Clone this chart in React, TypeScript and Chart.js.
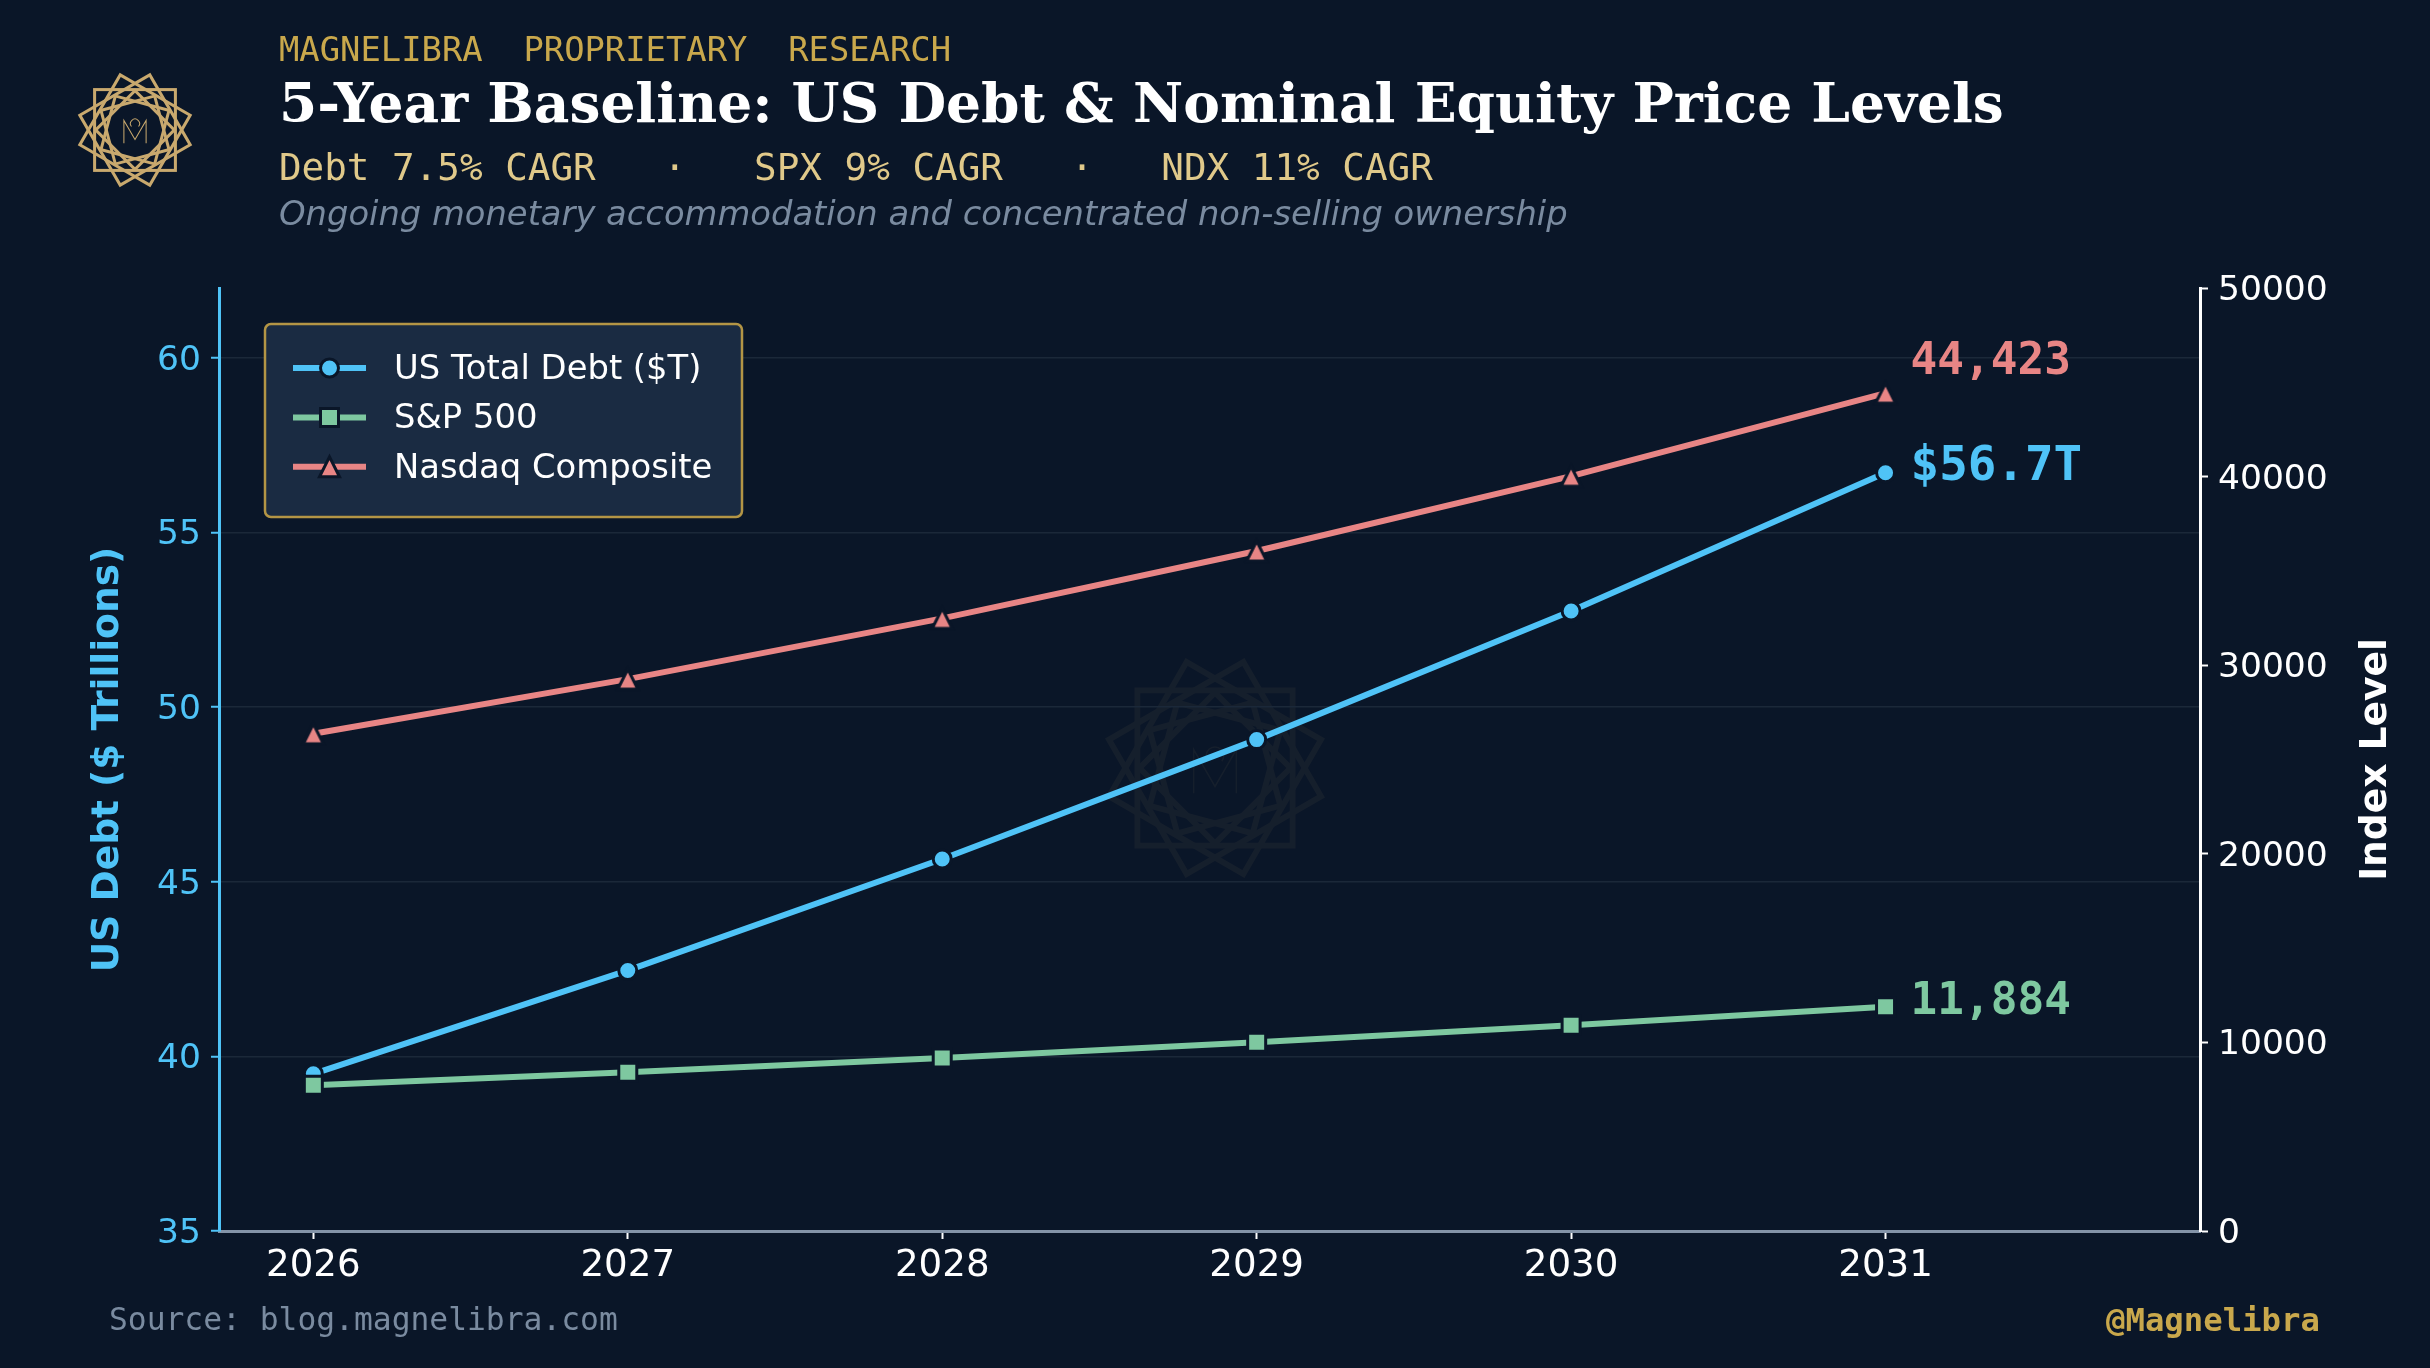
import React, { useEffect, useRef } from 'react';
import { Chart, registerables } from 'chart.js';
Chart.register(...registerables);

const years = [2026, 2027, 2028, 2029, 2030, 2031];
const debtValues = [39.5, 42.46, 45.65, 49.07, 52.75, 56.71];
const spxValues = [7724, 8419, 9177, 10003, 10903, 11884];
const ndxValues = [26363, 29263, 32482, 36055, 40021, 44423];
const debtTicks = [35, 40, 45, 50, 55, 60];
const indexTicks = [0, 10000, 20000, 30000, 40000, 50000];
const seriesNames = ['US Total Debt ($T)', 'S&P 500', 'Nasdaq Composite'];
const endLabels = ['$56.7T', '11,884', '44,423'];

const BG = '#0a1628';
const BLUE = '#4fc3f7';
const GREEN = '#7ec8a0';
const RED = '#e88585';
const GOLD = '#c9a84c';
const LOGO = '#c9a96e';
const MUTED = '#7a8ba0';
const WHITE = '#ffffff';
const SANS = '"DejaVu Sans"';
const MONO = '"DejaVu Sans Mono"';

type MarkerKind = 'circle' | 'square' | 'triangle';

// matplotlib style marker: filled shape with a background coloured edge
const drawMarker = (ctx: CanvasRenderingContext2D, kind: MarkerKind, color: string, x: number, y: number) => {
    ctx.save();
    ctx.fillStyle = color;
    ctx.strokeStyle = BG;
    ctx.lineWidth = 3;
    ctx.lineJoin = 'miter';
    ctx.miterLimit = 10;
    ctx.beginPath();
    if (kind === 'circle') ctx.arc(x, y, 9, 0, Math.PI * 2);
    if (kind === 'square') ctx.rect(x - 9, y - 9, 18, 18);
    if (kind === 'triangle') {
        ctx.moveTo(x, y - 10);
        ctx.lineTo(x - 10, y + 10);
        ctx.lineTo(x + 10, y + 10);
        ctx.closePath();
    }
    ctx.fill();
    ctx.stroke();
    ctx.restore();
};

const triangleImage = () => {
    const c = document.createElement('canvas');
    c.width = 40;
    c.height = 40;
    drawMarker(c.getContext('2d')!, 'triangle', RED, 20, 20);
    return c;
};

const legendPlugin = {
    id: 'boxLegend',
    afterDraw(chart: any) {
        const ctx = chart.ctx;
        ctx.save();
        ctx.fillStyle = '#1a2b42';
        ctx.strokeStyle = '#b39545';
        ctx.lineWidth = 2.5;
        ctx.beginPath();
        ctx.roundRect(265, 324, 477, 193, 6);
        ctx.fill();
        ctx.stroke();
        const kinds: MarkerKind[] = ['circle', 'square', 'triangle'];
        const colors = [BLUE, GREEN, RED];
        seriesNames.forEach((name, i) => {
            const y = 368 + i * 49.4;
            ctx.strokeStyle = colors[i];
            ctx.lineWidth = 6;
            ctx.beginPath();
            ctx.moveTo(293, y);
            ctx.lineTo(366, y);
            ctx.stroke();
            drawMarker(ctx, kinds[i], colors[i], 329.5, y);
            ctx.fillStyle = WHITE;
            ctx.font = `33.8px ${SANS}`;
            ctx.textBaseline = 'alphabetic';
            ctx.fillText(name, 394, y + 11);
        });
        ctx.restore();
    },
};

const annotationPlugin = {
    id: 'endAnnotations',
    afterDatasetsDraw(chart: any) {
        const ctx = chart.ctx;
        const x = chart.scales.x.getPixelForValue(years[years.length - 1]);
        const rows = [
            { y: chart.scales.yDebt.getPixelForValue(debtValues[debtValues.length - 1]), dy: 7.5, color: BLUE, dx: 25, size: 47.5 },
            { y: chart.scales.yIndex.getPixelForValue(spxValues[spxValues.length - 1]), dy: 7.5, color: GREEN, dx: 25, size: 44.4 },
            { y: chart.scales.yIndex.getPixelForValue(ndxValues[ndxValues.length - 1]), dy: -19, color: RED, dx: 25, size: 44.4 },
        ];
        ctx.save();
        ctx.textBaseline = 'alphabetic';
        rows.forEach((r, i) => {
            ctx.font = `bold ${r.size}px ${MONO}`;
            ctx.fillStyle = r.color;
            ctx.fillText(endLabels[i], x + r.dx, r.y + r.dy);
        });
        // the right axis title reads upward, chart.js would turn it the other way
        ctx.translate(2376, (chart.chartArea.top + chart.chartArea.bottom) / 2);
        ctx.rotate(-Math.PI / 2);
        ctx.font = `bold 37.6px ${SANS}`;
        ctx.fillStyle = WHITE;
        ctx.textAlign = 'center';
        ctx.textBaseline = 'middle';
        ctx.fillText('Index Level', 0, 0);
        ctx.restore();
    },
};

const LogoMark: React.FC<{ cx: number; cy: number; scale: number; color: string; opacity: number; thin: number }> = ({ cx, cy, scale, color, opacity, thin }) => (
    <svg width={260} height={260} viewBox="-130 -130 260 260" style={{ position: 'absolute', left: cx - 130, top: cy - 130, opacity }}>
        <g transform={`scale(${scale})`} fill="none" stroke={color}>
            {[0, 30, 60].map(a => <rect key={a} x={-80} y={-80} width={160} height={160} strokeWidth={6} transform={`rotate(${a})`} />)}
            {[15, 45, 75].map(a => <rect key={a} x={-55} y={-55} width={110} height={110} strokeWidth={6} transform={`rotate(${a})`} />)}
            <path d="M-22 26 V-19 L0 19 L22 -19 V26 M-7 -7 A9 9 0 1 1 7 -7" strokeWidth={thin} />
        </g>
    </svg>
);

const textAt = (left: number, baseline: number, size: number): React.CSSProperties => ({
    position: 'absolute',
    left,
    top: baseline - 0.846 * size,
    fontSize: size,
    lineHeight: 1,
    whiteSpace: 'pre',
});

// chart.js centres tick text a little above the tick, an empty first line with a small
// line height pushes the labels back down onto it
const nudgedTick = (v: any) => ['', String(v)];

const App: React.FC = () => {
    const canvasRef = useRef<HTMLCanvasElement>(null);

    useEffect(() => {
        if (!canvasRef.current) return;
        const chart = new Chart(canvasRef.current, {
            type: 'line',
            data: {
                datasets: [
                    {
                        label: seriesNames[0],
                        data: years.map((x, i) => ({ x, y: debtValues[i] })),
                        yAxisID: 'yDebt',
                        borderColor: BLUE,
                        backgroundColor: BLUE,
                        borderWidth: 6,
                        pointRadius: 9,
                        pointBorderWidth: 3,
                        pointBorderColor: BG,
                        pointBackgroundColor: BLUE,
                        pointStyle: 'circle',
                        order: 3,
                    },
                    {
                        label: seriesNames[1],
                        data: years.map((x, i) => ({ x, y: spxValues[i] })),
                        yAxisID: 'yIndex',
                        borderColor: GREEN,
                        backgroundColor: GREEN,
                        borderWidth: 6,
                        pointRadius: 12.73,
                        pointBorderWidth: 3,
                        pointBorderColor: BG,
                        pointBackgroundColor: GREEN,
                        pointStyle: 'rect',
                        order: 2,
                    },
                    {
                        label: seriesNames[2],
                        data: years.map((x, i) => ({ x, y: ndxValues[i] })),
                        yAxisID: 'yIndex',
                        borderColor: RED,
                        backgroundColor: RED,
                        borderWidth: 6,
                        pointRadius: 12,
                        pointStyle: triangleImage(),
                        order: 1,
                    },
                ],
            },
            options: {
                responsive: false,
                animation: false,
                devicePixelRatio: 1,
                events: [],
                layout: { padding: { top: 288, left: 0, right: 0, bottom: 0 } },
                plugins: { legend: { display: false }, tooltip: { enabled: false } },
                scales: {
                    x: {
                        type: 'linear',
                        min: 2025.7,
                        max: 2032,
                        afterBuildTicks: (s: any) => { s.ticks = years.map(value => ({ value })); },
                        afterFit: (s: any) => { s.height = 137; },
                        ticks: { color: WHITE, font: { family: SANS, size: 37.2 }, padding: 5, maxRotation: 0, callback: (v: any) => String(v) },
                        grid: { drawOnChartArea: false, tickColor: WHITE, tickLength: 8, tickWidth: 2 },
                        border: { color: '#8494a8', width: 3 },
                    },
                    yDebt: {
                        type: 'linear',
                        position: 'left',
                        min: 35,
                        max: 62,
                        afterBuildTicks: (s: any) => { s.ticks = debtTicks.map(value => ({ value })); },
                        afterFit: (s: any) => { s.width = 219; },
                        ticks: { color: BLUE, font: { family: SANS, size: 34.5, lineHeight: '6px' }, padding: 10, callback: nudgedTick },
                        grid: { color: '#1b2839', lineWidth: 1.5, tickColor: BLUE, tickLength: 8, tickWidth: 2 },
                        border: { color: BLUE, width: 3 },
                        title: {
                            display: true,
                            text: 'US Debt ($ Trillions)',
                            color: BLUE,
                            font: { family: SANS, size: 37.6, weight: 'bold' },
                            padding: { top: 85.5, bottom: 0 },
                        },
                    },
                    yIndex: {
                        type: 'linear',
                        position: 'right',
                        min: 0,
                        max: 50000,
                        afterBuildTicks: (s: any) => { s.ticks = indexTicks.map(value => ({ value })); },
                        afterFit: (s: any) => { s.width = 230; },
                        ticks: { color: WHITE, font: { family: SANS, size: 34.5, lineHeight: '6px' }, padding: 10, callback: nudgedTick },
                        grid: { drawOnChartArea: false, tickColor: WHITE, tickLength: 8, tickWidth: 2 },
                        border: { color: WHITE, width: 3 },
                    },
                },
            },
            plugins: [annotationPlugin, legendPlugin],
        } as any);
        return () => chart.destroy();
    }, []);

    return (
        <div style={{ position: 'fixed', left: 0, top: 0, width: 2430, height: 1368, background: BG, overflow: 'hidden' }}>
            <LogoMark cx={134.5} cy={130} scale={0.505} color={LOGO} opacity={1} thin={2} />
            <LogoMark cx={1215} cy={767.5} scale={0.97} color={LOGO} opacity={0.06} thin={1.5} />
            <canvas ref={canvasRef} width={2430} height={1368} style={{ position: 'absolute', left: 0, top: 0, width: 2430, height: 1368 }} />
            <div style={{ ...textAt(279, 62, 33.85), fontFamily: MONO, color: GOLD }}>{'MAGNELIBRA  PROPRIETARY  RESEARCH'}</div>
            <div style={{ ...textAt(279, 122, 55), fontFamily: '"DejaVu Serif"', fontWeight: 'bold', color: WHITE }}>5-Year Baseline: US Debt &amp; Nominal Equity Price Levels</div>
            <div style={{ ...textAt(279, 181, 37.6), fontFamily: MONO, color: '#e0c98a' }}>{'Debt 7.5% CAGR   ·   SPX 9% CAGR   ·   NDX 11% CAGR'}</div>
            <div style={{ ...textAt(279, 226, 33.75), fontFamily: SANS, fontStyle: 'italic', color: MUTED }}>Ongoing monetary accommodation and concentrated non-selling ownership</div>
            <div style={{ ...textAt(109, 1330, 31.3), fontFamily: MONO, color: MUTED }}>Source: blog.magnelibra.com</div>
            <div style={{ ...textAt(2106, 1331, 32.3), fontFamily: MONO, fontWeight: 'bold', color: GOLD }}>@Magnelibra</div>
        </div>
    );
};

export default App;
